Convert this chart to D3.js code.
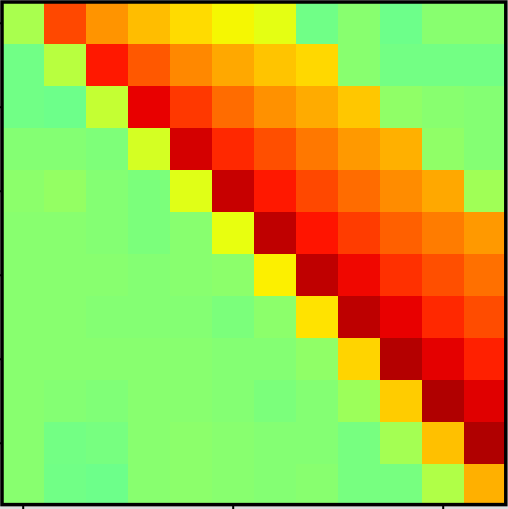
<!DOCTYPE html>
<html>
<head>
<meta charset="utf-8">
<script src="https://cdn.jsdelivr.net/npm/d3@7"></script>
<style>
html, body { margin: 0; padding: 0; background: #dedede; overflow: hidden; }
svg { display: block; }
</style>
</head>
<body>
<svg id="chart" width="508" height="509"></svg>
<script>
// Row / column indices of the matrix
const rowIndex = [0,1,2,3,4,5,6,7,8,9,10,11];
const colIndex = [0,1,2,3,4,5,6,7,8,9,10,11];
const xTickValues = [0, 5, 10];
const yTickValues = [0, 2, 4, 6, 8, 10];

// Matrix values (colormap position 0..1), one array per row
const row0  = [0.555, 0.834, 0.753, 0.710, 0.678, 0.648, 0.627, 0.486, 0.515, 0.482, 0.515, 0.515];
const row1  = [0.487, 0.574, 0.885, 0.817, 0.766, 0.732, 0.702, 0.681, 0.515, 0.490, 0.490, 0.490];
const row2  = [0.487, 0.482, 0.588, 0.910, 0.851, 0.796, 0.757, 0.729, 0.699, 0.525, 0.515, 0.510];
const row3  = [0.510, 0.510, 0.503, 0.608, 0.927, 0.868, 0.826, 0.783, 0.748, 0.724, 0.525, 0.510];
const row4  = [0.520, 0.530, 0.510, 0.500, 0.622, 0.938, 0.885, 0.834, 0.796, 0.762, 0.732, 0.545];
const row5  = [0.515, 0.515, 0.510, 0.500, 0.515, 0.632, 0.945, 0.889, 0.847, 0.808, 0.779, 0.748];
const row6  = [0.515, 0.515, 0.515, 0.510, 0.515, 0.520, 0.656, 0.945, 0.903, 0.859, 0.826, 0.791];
const row7  = [0.515, 0.515, 0.510, 0.510, 0.510, 0.500, 0.520, 0.670, 0.947, 0.910, 0.868, 0.830];
const row8  = [0.515, 0.515, 0.515, 0.515, 0.515, 0.510, 0.510, 0.525, 0.686, 0.955, 0.913, 0.876];
const row9  = [0.515, 0.510, 0.505, 0.515, 0.515, 0.510, 0.500, 0.510, 0.540, 0.694, 0.958, 0.917];
const row10 = [0.515, 0.490, 0.495, 0.515, 0.520, 0.515, 0.510, 0.510, 0.495, 0.549, 0.707, 0.958];
const row11 = [0.515, 0.487, 0.482, 0.515, 0.520, 0.515, 0.510, 0.515, 0.495, 0.495, 0.564, 0.724];
const matrix = [row0,row1,row2,row3,row4,row5,row6,row7,row8,row9,row10,row11];

// Jet colormap (matplotlib segment data)
const jetSeg = {
  r: [[0,0],[0.35,0],[0.66,1],[0.89,1],[1,0.5]],
  g: [[0,0],[0.125,0],[0.375,1],[0.64,1],[0.91,0],[1,0]],
  b: [[0,0.5],[0.11,1],[0.34,1],[0.65,0],[1,0]]
};
function seg(pts, t) {
  t = Math.max(0, Math.min(1, t));
  for (let i = 1; i < pts.length; i++) {
    if (t <= pts[i][0]) {
      const [t0, v0] = pts[i-1], [t1, v1] = pts[i];
      return v0 + (v1 - v0) * (t - t0) / (t1 - t0);
    }
  }
  return pts[pts.length-1][1];
}
function jet(t) {
  return d3.rgb(seg(jetSeg.r, t)*255, seg(jetSeg.g, t)*255, seg(jetSeg.b, t)*255).toString();
}
const color = d3.scaleSequential(jet).domain([0, 1]);

const svg = d3.select("#chart");
const x0 = 1.7, y0 = 1.7, size = 504;

const x = d3.scaleBand().domain(colIndex).range([x0, x0 + size]).padding(0);
const y = d3.scaleBand().domain(rowIndex).range([y0, y0 + size]).padding(0);

const cells = [];
matrix.forEach((row, i) => row.forEach((v, j) => cells.push({ r: rowIndex[i], c: colIndex[j], v })));

svg.append("g").selectAll("rect")
  .data(cells)
  .join("rect")
  .attr("x", d => x(d.c))
  .attr("y", d => y(d.r))
  .attr("width", x.bandwidth() + 0.5)
  .attr("height", y.bandwidth() + 0.5)
  .attr("fill", d => color(d.v))
  .attr("shape-rendering", "crispEdges");

// Axes: tick marks only (the reference's tick labels lie outside the window)
const xCenter = d3.scaleLinear().domain([0, 11]).range([x(0) + x.bandwidth()/2, x(11) + x.bandwidth()/2]);
const yCenter = d3.scaleLinear().domain([0, 11]).range([y(0) + y.bandwidth()/2, y(11) + y.bandwidth()/2]);

const xAxis = svg.append("g")
  .attr("transform", "translate(0,505.5)")
  .call(d3.axisBottom(xCenter).tickValues(xTickValues).tickSize(5).tickFormat(""));
const yAxis = svg.append("g")
  .attr("transform", "translate(2,0)")
  .call(d3.axisLeft(yCenter).tickValues(yTickValues).tickSize(4).tickFormat(""));
[xAxis, yAxis].forEach(a => {
  a.select(".domain").remove();
  a.selectAll(".tick text").remove();
  a.selectAll(".tick line").attr("stroke", "#000").attr("stroke-width", 2);
});

// Frame
svg.append("rect")
  .attr("x", 2).attr("y", 2)
  .attr("width", 503.8).attr("height", 502.6)
  .attr("fill", "none")
  .attr("stroke", "#000")
  .attr("stroke-width", 3.5);
</script>
</body>
</html>
